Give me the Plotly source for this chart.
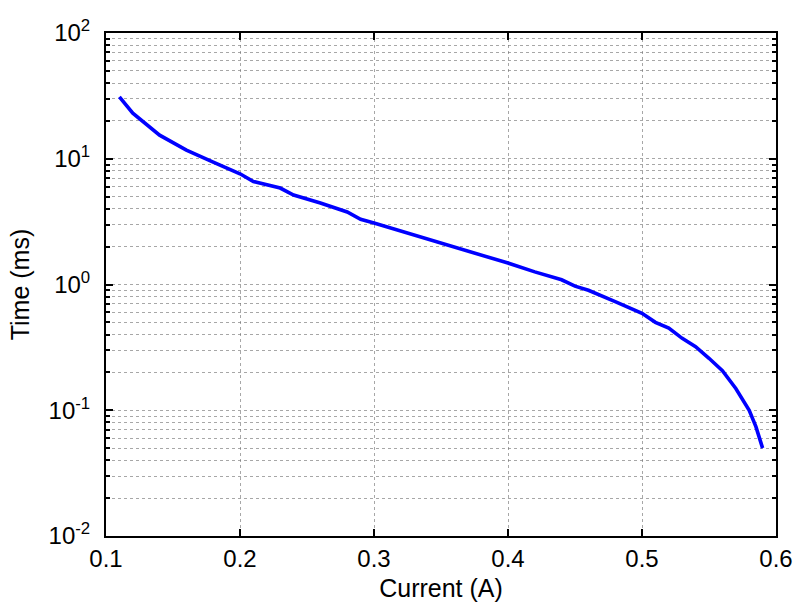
import plotly.graph_objects as go

current_a = [0.11, 0.12, 0.14, 0.16, 0.18, 0.20, 0.21, 0.23, 0.24, 0.26, 0.28, 0.29,
             0.30, 0.33, 0.35, 0.38, 0.40, 0.42, 0.44, 0.45, 0.46, 0.48, 0.50,
             0.51, 0.52, 0.53, 0.54, 0.55, 0.56, 0.57, 0.58, 0.585, 0.59]
time_ms = [31.0, 23.0, 15.4, 11.7, 9.4, 7.6, 6.6, 5.85, 5.15, 4.45, 3.77, 3.3,
           3.08, 2.48, 2.14, 1.72, 1.48, 1.26, 1.09, 0.97, 0.90, 0.73, 0.59,
           0.50, 0.45, 0.373, 0.32, 0.259, 0.206, 0.149, 0.10, 0.074, 0.05]

x_ticks = [0.1, 0.2, 0.3, 0.4, 0.5, 0.6]
x_tick_labels = ["0.1", "0.2", "0.3", "0.4", "0.5", "0.6"]
y_ticks = [0.01, 0.1, 1, 10, 100]
y_tick_labels = ["10<sup>-2</sup>", "10<sup>-1</sup>", "10<sup>0</sup>", "10<sup>1</sup>", "10<sup>2</sup>"]

y_minor = [m * d for d in [0.01, 0.1, 1, 10] for m in range(2, 10)]

FONT = "Liberation Sans, Arial, sans-serif"
grid_color = "rgba(120,120,120,0.65)"
FS = 24

fig = go.Figure()
fig.add_trace(go.Scatter(x=current_a, y=time_ms, mode="lines",
                         line=dict(color="#0000ff", width=3.6), showlegend=False))

fig.update_layout(
    width=796, height=606,
    margin=dict(l=106, r=20, t=33, b=70),
    paper_bgcolor="white", plot_bgcolor="white",
    font=dict(family=FONT, size=FS, color="black"),
)
fig.update_xaxes(
    range=[0.1, 0.6], tickvals=x_ticks, ticktext=x_tick_labels,
    automargin=False, ticklabeloverflow="allow",
    showline=True, linecolor="black", linewidth=2, mirror="allticks",
    ticks="inside", ticklen=7, tickwidth=1.5, tickcolor="black",
    showgrid=True, gridcolor=grid_color, griddash="dot", gridwidth=1,
    zeroline=False,
    title=dict(text="Current (A)", font=dict(size=25), standoff=9),
    tickfont=dict(size=FS),
)
fig.update_yaxes(
    type="log", range=[-2, 2], tickvals=y_ticks, ticktext=y_tick_labels,
    automargin=False, ticklabelstandoff=9, ticklabeloverflow="allow",
    showline=True, linecolor="black", linewidth=2, mirror="allticks",
    ticks="inside", ticklen=7, tickwidth=1.5, tickcolor="black",
    showgrid=True, gridcolor=grid_color, griddash="dot", gridwidth=1,
    zeroline=False,
    title=dict(text="Time (ms)", font=dict(size=25), standoff=12),
    tickfont=dict(size=FS),
    minor=dict(tickmode="array", tickvals=y_minor, ticks="inside", ticklen=4,
               tickwidth=1.5, tickcolor="black",
               showgrid=True, gridcolor=grid_color, griddash="dot", gridwidth=1),
)

fig.write_html("out.html", config={"displayModeBar": False},
               post_script="document.body.style.margin='0';document.body.style.overflow='hidden';")
